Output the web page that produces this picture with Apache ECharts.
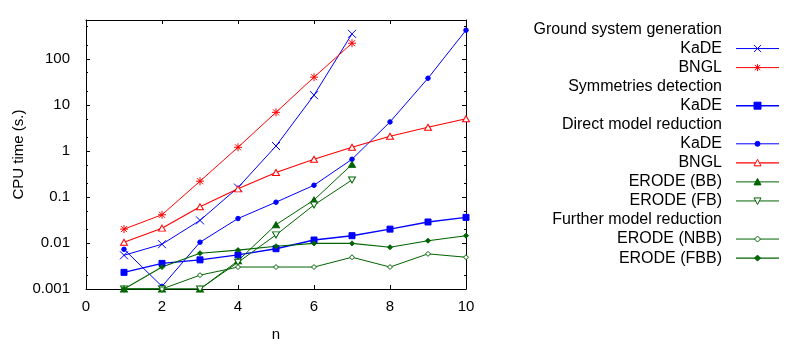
<!DOCTYPE html>
<html><head><meta charset="utf-8">
<script src="https://cdn.jsdelivr.net/npm/echarts@6/dist/echarts.min.js"></script>
<style>html,body{margin:0;padding:0;background:#fff}#c{width:800px;height:350px}</style>
</head><body><div id="c"></div>
<script>
// ---- data ----
const nValues = [1, 2, 3, 4, 5, 6, 7, 8, 9, 10];
const groundKaDE = [0.0054, 0.0094, 0.031, 0.16, 1.28, 16.3, 350];
const groundBNGL = [0.020, 0.041, 0.22, 1.2, 6.9, 40, 219];
const symmetriesKaDE = [0.0023, 0.0036, 0.0043, 0.0055, 0.0075, 0.0116, 0.0144, 0.020, 0.0286, 0.036];
const directKaDE = [0.0073, 0.00114, 0.0104, 0.034, 0.077, 0.18, 0.66, 4.27, 38, 421];
const directBNGL = [0.0104, 0.021, 0.061, 0.15, 0.34, 0.66, 1.2, 2.09, 3.27, 5.0];
const erodeBB = [0.001, 0.001, 0.001, 0.0041, 0.025, 0.086, 0.51];
const erodeFB = [0.001, 0.001, 0.001, 0.0038, 0.015, 0.067, 0.234];
const erodeNBB = [0.001, 0.001, 0.002, 0.003, 0.003, 0.003, 0.0049, 0.003, 0.0058, 0.0049];
const erodeFBB = [0.001, 0.003, 0.006, 0.007, 0.0085, 0.0098, 0.0098, 0.0081, 0.0112, 0.0144];
const yTickValues = [0.001, 0.01, 0.1, 1, 10, 100];
const yTickLabels = ['0.001', '0.01', '0.1', '1', '10', '100'];
const yMinorTicks = [0.002, 0.005, 0.02, 0.05, 0.2, 0.5, 2, 5, 20, 50, 200, 500];
const xTickLabels = ['0', '2', '4', '6', '8', '10'];
const groupTitles = ['Ground system generation', 'Symmetries detection', 'Direct model reduction', 'Further model reduction'];
const seriesLabels = ['KaDE', 'BNGL', 'KaDE', 'KaDE', 'BNGL', 'ERODE (BB)', 'ERODE (FB)', 'ERODE (NBB)', 'ERODE (FBB)'];

// ---- style ----
const BLUE = '#0000ff', RED = '#ff0000', GREEN = '#006400';
const FONT = '"Liberation Sans", Arial, sans-serif';
const FS = 15;
const LFS = 16;

const PATH_CROSS = 'path://M0,0L8,8M8,0L0,8';
const PATH_STAR = 'path://M0,4L8,4M4,0L4,8M1,1L7,7M7,1L1,7';
const PATH_DTRI = 'path://M0,0L8,0L4,7Z';

function mk(name, values, color, symbol, size, fill, width) {
  return {
    type: 'line', name: name,
    data: values.map((v, i) => [nValues[i], v]),
    xAxisIndex: 0, yAxisIndex: 0,
    symbol: symbol, symbolSize: size, showAllSymbol: true,
    lineStyle: { color: color, width: width },
    itemStyle: { color: fill, borderColor: color, borderWidth: 1 },
    emphasis: { disabled: true }, silent: true, clip: true, animation: false
  };
}

const series = [
  mk('gKaDE', groundKaDE, BLUE, PATH_CROSS, 8, 'transparent', 1),
  mk('gBNGL', groundBNGL, RED, PATH_STAR, 8, 'transparent', 1),
  mk('sKaDE', symmetriesKaDE, BLUE, 'rect', 6, BLUE, 1.4),
  mk('dKaDE', directKaDE, BLUE, 'circle', 4.5, BLUE, 1),
  mk('dBNGL', directBNGL, RED, 'triangle', [7, 6], '#fff', 1.1),
  mk('dBB', erodeBB, GREEN, 'triangle', [7, 6], GREEN, 1),
  mk('dFB', erodeFB, GREEN, PATH_DTRI, [7, 6], '#fff', 1),
  mk('fNBB', erodeNBB, GREEN, 'diamond', 5, '#fff', 1),
  mk('fFBB', erodeFBB, GREEN, 'diamond', 5, GREEN, 1.1)
];

function yLabel(v) {
  const i = yTickValues.findIndex(t => Math.abs(Math.log10(t) - Math.log10(v)) < 1e-6);
  return i >= 0 ? yTickLabels[i] : '';
}

const axisLineBlack = { show: true, lineStyle: { color: '#000', width: 1 } };
const labelStyle = { fontFamily: FONT, fontSize: FS, color: '#000' };
const yBase = { type: 'log', logBase: 10, min: 0.001, max: 700, splitLine: { show: false } };

const yAxis = [
  Object.assign({}, yBase, {
    position: 'left', axisLine: axisLineBlack,
    axisTick: { show: true, inside: true, length: 4, customValues: yTickValues, lineStyle: { color: '#000' } },
    axisLabel: Object.assign({ show: true, customValues: yTickValues, formatter: yLabel, margin: 16 }, labelStyle),
    name: 'CPU time (s.)', nameLocation: 'middle', nameGap: 60, nameTextStyle: labelStyle
  }),
  Object.assign({}, yBase, {
    position: 'left', axisLine: { show: false },
    axisTick: { show: true, inside: true, length: 2, customValues: yMinorTicks, lineStyle: { color: '#000' } },
    axisLabel: { show: false }
  }),
  Object.assign({}, yBase, {
    position: 'right', axisLine: axisLineBlack,
    axisTick: { show: true, inside: true, length: 4, customValues: yTickValues, lineStyle: { color: '#000' } },
    axisLabel: { show: false }
  }),
  Object.assign({}, yBase, {
    position: 'right', axisLine: { show: false },
    axisTick: { show: true, inside: true, length: 2, customValues: yMinorTicks, lineStyle: { color: '#000' } },
    axisLabel: { show: false }
  })
];

const xAxis = [
  {
    type: 'value', min: 0, max: 10, interval: 2, position: 'bottom',
    axisLine: axisLineBlack,
    axisTick: { show: true, inside: true, length: 4, lineStyle: { color: '#000' } },
    axisLabel: Object.assign({ margin: 10, formatter: v => xTickLabels[Math.round(v / 2)] }, labelStyle),
    splitLine: { show: false },
    name: 'n', nameLocation: 'middle', nameGap: 38, nameTextStyle: labelStyle
  },
  {
    type: 'value', min: 0, max: 10, interval: 2, position: 'top',
    axisLine: axisLineBlack,
    axisTick: { show: true, inside: true, length: 4, lineStyle: { color: '#000' } },
    axisLabel: { show: false }, splitLine: { show: false }
  }
];

// ---- legend (graphic) ----
const legendOrder = [
  { title: 0 }, { s: 0 }, { s: 1 }, { title: 1 }, { s: 2 }, { title: 2 }, { s: 3 }, { s: 4 }, { s: 5 }, { s: 6 },
  { title: 3 }, { s: 7 }, { s: 8 }
];
const LX_TEXT = 722, LX0 = 736, LX1 = 779, LXC = 757.5, LY0 = 29.5, LDY = 19.05;

function legendMark(idx, cx, cy) {
  const s = series[idx];
  const c = s.lineStyle.color;
  const els = [];
  const st = (fill) => ({ fill: fill, stroke: c, lineWidth: 1 });
  switch (idx) {
    case 0:
      els.push({ type: 'line', shape: { x1: cx - 3.5, y1: cy - 3.5, x2: cx + 3.5, y2: cy + 3.5 }, style: { stroke: c, lineWidth: 1 } });
      els.push({ type: 'line', shape: { x1: cx + 3.5, y1: cy - 3.5, x2: cx - 3.5, y2: cy + 3.5 }, style: { stroke: c, lineWidth: 1 } });
      break;
    case 1:
      [[-3.5, 0, 3.5, 0], [0, -3.5, 0, 3.5], [-2.7, -2.7, 2.7, 2.7], [2.7, -2.7, -2.7, 2.7]].forEach(p =>
        els.push({ type: 'line', shape: { x1: cx + p[0], y1: cy + p[1], x2: cx + p[2], y2: cy + p[3] }, style: { stroke: c, lineWidth: 1 } }));
      break;
    case 2:
      els.push({ type: 'rect', shape: { x: cx - 3.5, y: cy - 3.5, width: 7, height: 7 }, style: st(c) });
      break;
    case 3:
      els.push({ type: 'circle', shape: { cx: cx, cy: cy, r: 2.5 }, style: st(c) });
      break;
    case 4:
    case 5:
      els.push({ type: 'polygon', shape: { points: [[cx, cy - 3.5], [cx + 3.5, cy + 3], [cx - 3.5, cy + 3]] }, style: st(idx === 5 ? c : '#fff') });
      break;
    case 6:
      els.push({ type: 'polygon', shape: { points: [[cx - 3.5, cy - 3], [cx + 3.5, cy - 3], [cx, cy + 3.5]] }, style: st('#fff') });
      break;
    case 7:
    case 8:
      els.push({ type: 'polygon', shape: { points: [[cx, cy - 3], [cx + 3, cy], [cx, cy + 3], [cx - 3, cy]] }, style: st(idx === 8 ? c : '#fff') });
      break;
  }
  return els;
}

const graphics = [];
legendOrder.forEach((row, i) => {
  const y = LY0 + i * LDY;
  const text = row.title !== undefined ? groupTitles[row.title] : seriesLabels[row.s];
  graphics.push({ type: 'text', x: LX_TEXT, y: y, style: { text: text, align: 'right', verticalAlign: 'middle', font: LFS + 'px ' + FONT, fill: '#000' } });
  if (row.s !== undefined) {
    const s = series[row.s];
    graphics.push({ type: 'line', shape: { x1: LX0, y1: y, x2: LX1, y2: y }, style: { stroke: s.lineStyle.color, lineWidth: s.lineStyle.width } });
    legendMark(row.s, LXC, y).forEach(e => graphics.push(e));
  }
});

const chart = echarts.init(document.getElementById('c'), null, { renderer: 'canvas' });
chart.setOption({
  animation: false,
  backgroundColor: '#fff',
  grid: { left: 86, right: 334, top: 20, bottom: 61, outerBoundsMode: 'none', containLabel: false },
  xAxis: xAxis,
  yAxis: yAxis,
  series: series,
  graphic: graphics
});
</script>
</body></html>
